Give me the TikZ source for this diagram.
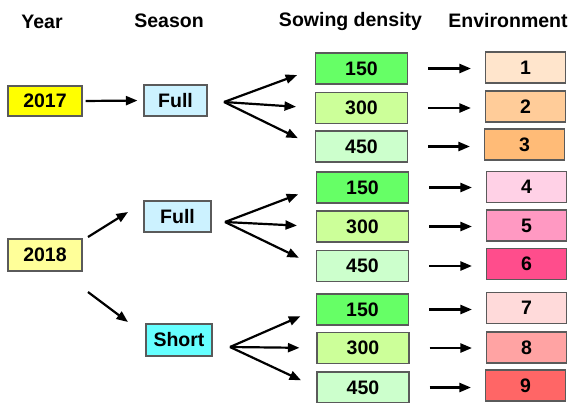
\documentclass[tikz,border=0pt]{standalone}
\usepackage{fontspec}
\setmainfont{Liberation Sans}
\usetikzlibrary{arrows.meta}

\definecolor{yrA}{HTML}{FFFF00}
\definecolor{yrB}{HTML}{FFFF99}
\definecolor{seasonFull}{HTML}{CCF2FF}
\definecolor{seasonShort}{HTML}{66FFFF}
\definecolor{denLow}{HTML}{66FF66}
\definecolor{denMid}{HTML}{CCFF99}
\definecolor{denHigh}{HTML}{CCFFCC}
\definecolor{envA}{HTML}{FFE5CC}
\definecolor{envB}{HTML}{FFCC99}
\definecolor{envC}{HTML}{FFBB77}
\definecolor{envD}{HTML}{FFD1E6}
\definecolor{envE}{HTML}{FF99C2}
\definecolor{envF}{HTML}{FF4D8C}
\definecolor{envG}{HTML}{FFDADA}
\definecolor{envH}{HTML}{FFA3A3}
\definecolor{envI}{HTML}{FF6666}
\definecolor{edge}{HTML}{5A5A5A}

\tikzset{
  lbl/.style={font=\fontsize{19.5}{22}\selectfont\bfseries},
  head/.style={lbl, anchor=base, inner sep=0pt},
  cell/.style={lbl, draw=edge, line width=1.1pt, rectangle, inner sep=0pt,
               minimum height=31pt},
  yearbox/.style={cell, minimum width=74pt},
  seasonbox/.style={cell, minimum width=65pt},
  denbox/.style={cell, minimum width=92pt},
  envbox/.style={cell, minimum width=80pt},
  arr/.style={line width=2.2pt, -{Triangle[length=11.5pt,width=9pt]}},
}

\begin{document}
\begin{tikzpicture}[x=1pt, y=-1pt]
\useasboundingbox (0,0) rectangle (572,402);

% column headings
\node[head] (hYear) at (42,28) {Year};
\node[head] (hSeason) at (169,27) {Season};
\node[head] (hDensity) at (350.5,26) {Sowing density};
\node[head] (hEnv) at (508,27) {Environment};

% years
\node[yearbox, fill=yrA, minimum height=30pt] (y17) at (45,101) {2017};
\node[yearbox, fill=yrB, minimum height=32pt] (y18) at (45,255) {2018};

% seasons
\node[seasonbox, fill=seasonFull, minimum width=63pt] (f1) at (175.5,100.5) {Full};
\node[seasonbox, fill=seasonFull, minimum width=67pt] (f2) at (177.5,216.5) {Full};
\node[seasonbox, fill=seasonShort, minimum width=66pt, minimum height=32pt] (sh) at (179,340) {Short};

% sowing densities
\node[denbox, fill=denLow]  (d1) at (361.5,68.5) {150};
\node[denbox, fill=denMid]  (d2) at (361.5,108) {300};
\node[denbox, fill=denHigh] (d3) at (361.5,146.5) {450};
\node[denbox, fill=denLow]  (d4) at (362.5,187.5) {150};
\node[denbox, fill=denMid]  (d5) at (362.5,226.5) {300};
\node[denbox, fill=denHigh] (d6) at (362.5,266) {450};
\node[denbox, fill=denLow]  (d7) at (362.5,309.5) {150};
\node[denbox, fill=denMid]  (d8) at (363,348) {300};
\node[denbox, fill=denHigh] (d9) at (363,387.5) {450};

% environments
\node[envbox, fill=envA] (e1) at (525.5,67.5) {1};
\node[envbox, fill=envB] (e2) at (525.5,106.5) {2};
\node[envbox, fill=envC] (e3) at (524.5,144.5) {3};
\node[envbox, fill=envD] (e4) at (526.5,187) {4};
\node[envbox, fill=envE] (e5) at (526.5,225.5) {5};
\node[envbox, fill=envF] (e6) at (526.5,264) {6};
\node[envbox, fill=envG] (e7) at (526.5,308) {7};
\node[envbox, fill=envH] (e8) at (526.5,347.5) {8};
\node[envbox, fill=envI] (e9) at (525.5,385.5) {9};

% year -> season
\draw[arr, shorten <=3pt, shorten >=6pt] (y17.east) -- (f1.west);
\coordinate (s18a) at (88,237);
\coordinate (t18a) at (128,212);
\coordinate (s18b) at (88,292);
\coordinate (t18b) at (128,322);
\draw[arr] (s18a) -- (t18a);
\draw[arr] (s18b) -- (t18b);

% season -> density fans
\coordinate (ap1) at (224,102);
\coordinate (ap2) at (225,222);
\coordinate (ap3) at (230,347);
\foreach \d in {d1,d2,d3} \draw[arr, shorten >=19pt] (ap1) -- (\d.west);
\foreach \d in {d4,d5,d6} \draw[arr, shorten >=19pt] (ap2) -- (\d.west);
\foreach \d in {d7,d8,d9} \draw[arr, shorten >=17pt] (ap3) -- (\d.west);

% density -> environment
\foreach \d/\e in {d1/e1,d2/e2,d3/e3,d4/e4,d5/e5,d6/e6,d7/e7,d8/e8,d9/e9}
  \draw[arr, shorten <=20pt, shorten >=14pt] (\d.east) -- (\d.east -| \e.west);
\end{tikzpicture}
\end{document}
